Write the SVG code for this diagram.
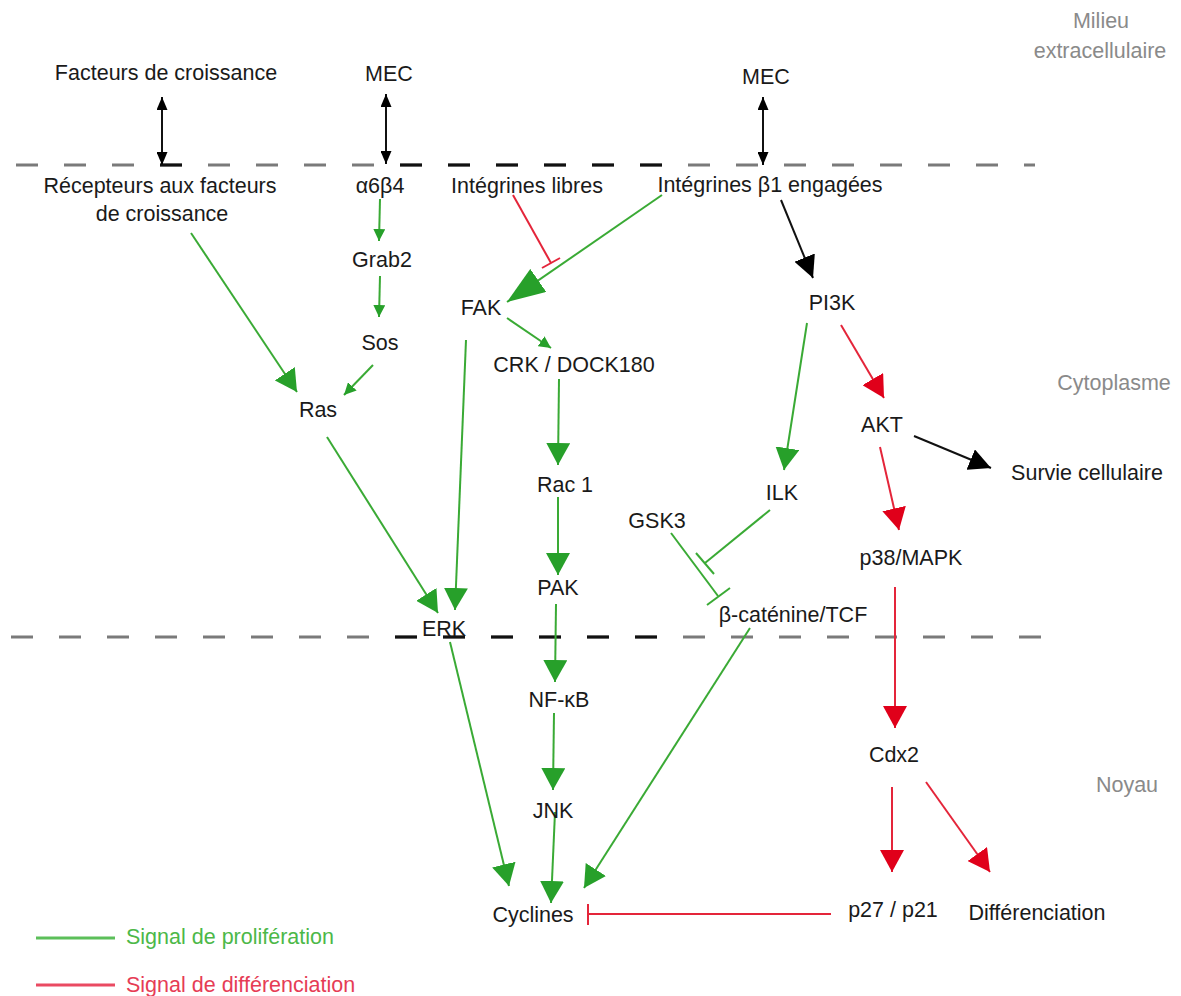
<svg xmlns="http://www.w3.org/2000/svg" width="1181" height="996" viewBox="0 0 1181 996">
<style>
text{font-family:"Liberation Sans",Arial,sans-serif;font-size:21.5px;fill:#1a1a1a;text-anchor:middle}
.zone{fill:#8a8a8a}
.g{stroke:#3aaa35;stroke-width:2;fill:none}
.r{stroke:#e4253a;stroke-width:2;fill:none}
.k{stroke:#111;stroke-width:2;fill:none}
.dg{stroke:#7a7a7a;stroke-width:3;stroke-dasharray:22 26}
.dk{stroke:#111;stroke-width:3;stroke-dasharray:22 26}
.lg{fill:#4cb848;text-anchor:start}
.lr{fill:#e63c55;text-anchor:start}
</style>
<defs>
<marker id="gb" markerUnits="userSpaceOnUse" markerWidth="22" markerHeight="24" viewBox="0 0 22 24" refX="22" refY="12" orient="auto"><path d="M0,0 L22,12 L0,24 z" fill="#27a02a"/></marker>
<marker id="gs" markerUnits="userSpaceOnUse" markerWidth="12" markerHeight="12" viewBox="0 0 12 12" refX="12" refY="6" orient="auto"><path d="M0,0 L12,6 L0,12 z" fill="#27a02a"/></marker>
<marker id="gh" markerUnits="userSpaceOnUse" markerWidth="38" markerHeight="28" viewBox="0 0 38 28" refX="38" refY="14" orient="auto"><path d="M0,0 L38,14 L0,28 z" fill="#27a02a"/></marker>
<marker id="rb" markerUnits="userSpaceOnUse" markerWidth="22" markerHeight="24" viewBox="0 0 22 24" refX="22" refY="12" orient="auto"><path d="M0,0 L22,12 L0,24 z" fill="#e0001a"/></marker>
<marker id="kb" markerUnits="userSpaceOnUse" markerWidth="22" markerHeight="22" viewBox="0 0 22 22" refX="22" refY="11" orient="auto"><path d="M0,0 L22,11 L0,22 z" fill="#000"/></marker>
<marker id="kd" markerUnits="userSpaceOnUse" markerWidth="13" markerHeight="11" viewBox="0 0 13 11" refX="13" refY="5.5" orient="auto-start-reverse"><path d="M0,0 L13,5.5 L0,11 z" fill="#000"/></marker>
</defs>

<g id="membranes">
<line class="dg" x1="16" y1="165" x2="1035" y2="165"/>
<line class="dk" x1="400" y1="165" x2="662" y2="165"/>
<line class="dk" x1="160" y1="165" x2="182" y2="165"/>
<line class="dg" x1="11" y1="637" x2="1041" y2="637"/>
<line class="dk" x1="395" y1="637" x2="660" y2="637"/>
</g>

<g id="zones">
<text class="zone" x="1101" y="28">Milieu</text>
<text class="zone" x="1100" y="58">extracellulaire</text>
<text class="zone" x="1114" y="390">Cytoplasme</text>
<text class="zone" x="1127" y="792">Noyau</text>
</g>

<g id="connectors">
<line class="k" x1="162" y1="97" x2="162" y2="165" marker-start="url(#kd)" marker-end="url(#kd)"/>
<line class="k" x1="386" y1="94" x2="386" y2="164" marker-start="url(#kd)" marker-end="url(#kd)"/>
<line class="k" x1="763" y1="97" x2="763" y2="165" marker-start="url(#kd)" marker-end="url(#kd)"/>
<line class="g" x1="380" y1="199" x2="379" y2="241" marker-end="url(#gs)"/>
<line class="g" x1="380" y1="276" x2="379" y2="317" marker-end="url(#gs)"/>
<line class="g" x1="373" y1="365" x2="344" y2="395" marker-end="url(#gs)"/>
<line class="g" x1="191" y1="233" x2="297" y2="392" marker-end="url(#gb)"/>
<line class="g" x1="327" y1="437" x2="438" y2="613" marker-end="url(#gb)"/>
<line class="g" x1="466" y1="340" x2="455" y2="610" marker-end="url(#gb)"/>
<line class="r" x1="513" y1="195" x2="551" y2="263"/>
<line class="r" x1="542" y1="268" x2="560" y2="258"/>
<line class="g" x1="662" y1="195" x2="507" y2="302" marker-end="url(#gh)"/>
<line class="k" x1="781" y1="200" x2="813" y2="278" marker-end="url(#kb)"/>
<line class="g" x1="507" y1="318" x2="551" y2="348" marker-end="url(#gs)"/>
<line class="g" x1="559" y1="379" x2="558" y2="465" marker-end="url(#gb)"/>
<line class="g" x1="558" y1="497" x2="558" y2="575" marker-end="url(#gb)"/>
<line class="g" x1="556" y1="604" x2="555" y2="682" marker-end="url(#gb)"/>
<line class="g" x1="554" y1="713" x2="553" y2="790" marker-end="url(#gb)"/>
<line class="g" x1="555" y1="812" x2="551" y2="903" marker-end="url(#gb)"/>
<line class="g" x1="450" y1="642" x2="509" y2="886" marker-end="url(#gb)"/>
<line class="g" x1="750" y1="628" x2="584" y2="888" marker-end="url(#gb)"/>
<line class="g" x1="807" y1="323" x2="784" y2="470" marker-end="url(#gb)"/>
<line class="r" x1="841" y1="325" x2="884" y2="398" marker-end="url(#rb)"/>
<line class="k" x1="914" y1="436" x2="991" y2="468" marker-end="url(#kb)"/>
<line class="r" x1="880" y1="447" x2="899" y2="530" marker-end="url(#rb)"/>
<line class="r" x1="895" y1="587" x2="895" y2="728" marker-end="url(#rb)"/>
<line class="r" x1="892" y1="787" x2="892" y2="872" marker-end="url(#rb)"/>
<line class="r" x1="926" y1="782" x2="990" y2="872" marker-end="url(#rb)"/>
<line class="g" x1="770" y1="510" x2="705" y2="563"/>
<line class="g" x1="696" y1="553" x2="714" y2="574"/>
<line class="g" x1="671" y1="533" x2="718" y2="596"/>
<line class="g" x1="707" y1="605" x2="730" y2="588"/>
<line class="r" x1="831" y1="914" x2="588" y2="914"/>
<line class="r" x1="588" y1="904" x2="588" y2="925"/>
</g>

<g id="n-facteurs"><text x="166" y="80">Facteurs de croissance</text></g>
<g id="n-mec1"><text x="389" y="81">MEC</text></g>
<g id="n-mec2"><text x="766" y="84">MEC</text></g>
<g id="n-recepteurs"><text x="160" y="193">Récepteurs aux facteurs</text><text x="162" y="221">de croissance</text></g>
<g id="n-a6b4"><text x="380" y="193">α6β4</text></g>
<g id="n-libres"><text x="527" y="193">Intégrines libres</text></g>
<g id="n-b1"><text x="770" y="192">Intégrines β1 engagées</text></g>
<g id="n-grab2"><text x="382" y="267">Grab2</text></g>
<g id="n-sos"><text x="380" y="350">Sos</text></g>
<g id="n-fak"><text x="481" y="315">FAK</text></g>
<g id="n-pi3k"><text x="832" y="310">PI3K</text></g>
<g id="n-crk"><text x="574" y="372">CRK / DOCK180</text></g>
<g id="n-ras"><text x="318" y="417">Ras</text></g>
<g id="n-akt"><text x="882" y="432">AKT</text></g>
<g id="n-survie"><text x="1087" y="480">Survie cellulaire</text></g>
<g id="n-rac1"><text x="565" y="492">Rac 1</text></g>
<g id="n-ilk"><text x="782" y="500">ILK</text></g>
<g id="n-gsk3"><text x="657" y="528">GSK3</text></g>
<g id="n-p38"><text x="911" y="565">p38/MAPK</text></g>
<g id="n-pak"><text x="558" y="595">PAK</text></g>
<g id="n-bcat"><text x="793" y="622">β-caténine/TCF</text></g>
<g id="n-erk"><text x="444" y="636">ERK</text></g>
<g id="n-nfkb"><text x="559" y="707">NF-κB</text></g>
<g id="n-cdx2"><text x="894" y="762">Cdx2</text></g>
<g id="n-jnk"><text x="553" y="818">JNK</text></g>
<g id="n-p27"><text x="893" y="917">p27 / p21</text></g>
<g id="n-diff"><text x="1037" y="920">Différenciation</text></g>
<g id="n-cyclines"><text x="533" y="922">Cyclines</text></g>

<g id="legend">
<line x1="36" y1="938" x2="115" y2="938" stroke="#5cbf5a" stroke-width="3"/>
<text class="lg" x="126" y="944">Signal de prolifération</text>
<line x1="36" y1="985" x2="115" y2="985" stroke="#ea4a62" stroke-width="3"/>
<text class="lr" x="126" y="992">Signal de différenciation</text>
</g>
</svg>
